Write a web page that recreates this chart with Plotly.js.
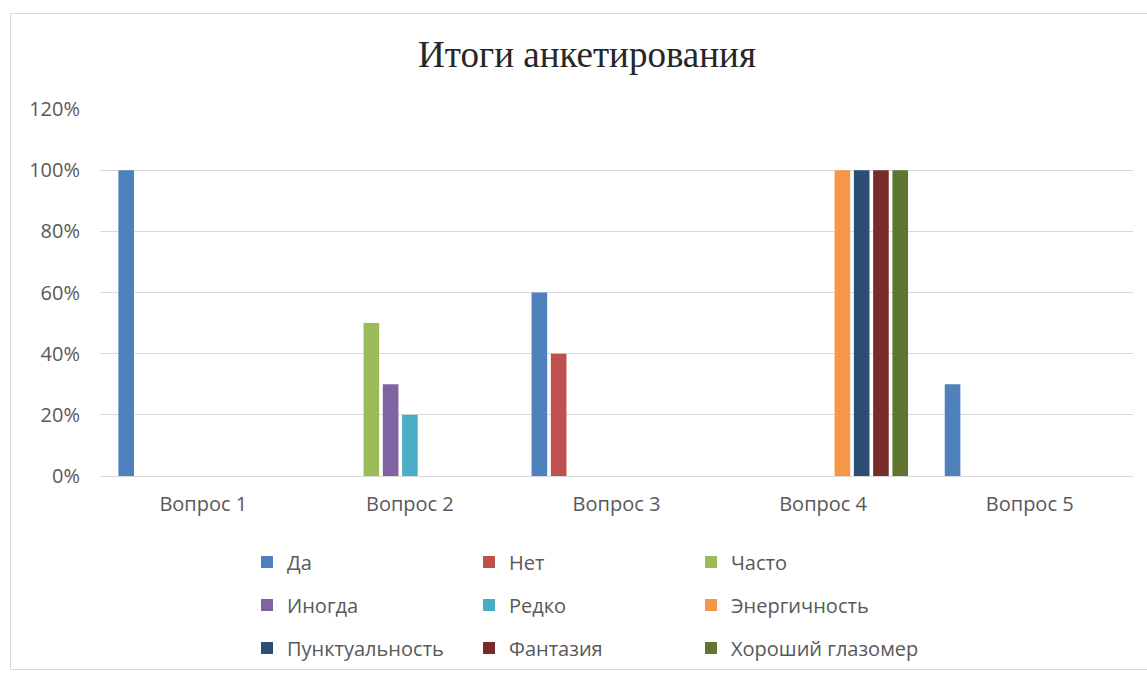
<!DOCTYPE html>
<html>
<head>
<meta charset="utf-8">
<script src="https://cdn.plot.ly/plotly-3.0.1.min.js"></script>
<style>
  html, body { margin: 0; padding: 0; background: #ffffff; overflow: hidden; }
  #chart { width: 1147px; height: 678px; }
  #frame { position: absolute; left: 10px; top: 13px; width: 1150px; height: 657px;
           border: 1px solid #d9d9d9; pointer-events: none; box-sizing: border-box; }
</style>
</head>
<body>
<div id="chart"></div>
<div id="frame"></div>
<script>
// ---- data ----
const categories = ["Вопрос 1", "Вопрос 2", "Вопрос 3", "Вопрос 4", "Вопрос 5"];
const seriesNames = ["Да", "Нет", "Часто", "Иногда", "Редко", "Энергичность", "Пунктуальность", "Фантазия", "Хороший глазомер"];
const daValues          = [1.00, null, 0.60, null, 0.30];
const netValues         = [null, null, 0.40, null, null];
const chastoValues      = [null, 0.50, null, null, null];
const inogdaValues      = [null, 0.30, null, null, null];
const redkoValues       = [null, 0.20, null, null, null];
const energyValues      = [null, null, null, 1.00, null];
const punctualValues    = [null, null, null, 1.00, null];
const fantasyValues     = [null, null, null, 1.00, null];
const eyeValues         = [null, null, null, 1.00, null];
const yTickValues = [0, 0.2, 0.4, 0.6, 0.8, 1.0, 1.2];

const allValues = [daValues, netValues, chastoValues, inogdaValues, redkoValues,
                   energyValues, punctualValues, fantasyValues, eyeValues];
const colors = ["#4F81BD", "#C0504D", "#9BBB59", "#8064A2", "#4BACC6",
                "#F79646", "#2C4D75", "#772C2A", "#5F7530"];
const legendIds = ["legend", "legend", "legend", "legend2", "legend2", "legend2", "legend3", "legend3", "legend3"];

const traces = seriesNames.map((name, i) => ({
  type: "bar",
  name: name,
  x: categories,
  y: allValues[i],
  marker: { color: colors[i] },
  legend: legendIds[i],
  hoverinfo: "skip"
}));
// invisible spacer entry so the last legend column is not clipped
traces.push({
  type: "scatter", mode: "markers", name: " ",
  x: [null], y: [null],
  marker: { color: "rgba(0,0,0,0)", opacity: 0 },
  legend: "legend3", showlegend: true, hoverinfo: "skip"
});

const textFont = { family: "Open Sans, Noto Sans, sans-serif", size: 20, color: "#595959" };
function mkLegend(yPix) {
  return {
    orientation: "h",
    xref: "container", yref: "container",
    x: 247 / 1147, xanchor: "left",
    y: 1 - yPix / 678, yanchor: "middle",
    entrywidth: 177, entrywidthmode: "pixels",
    itemwidth: 30,
    traceorder: "normal",
    font: textFont,
    bgcolor: "rgba(0,0,0,0)",
    itemclick: false, itemdoubleclick: false
  };
}

const layout = {
  width: 1147, height: 678,
  paper_bgcolor: "#ffffff", plot_bgcolor: "#ffffff",
  margin: { l: 100, r: 14, t: 109, b: 202 },
  title: {
    text: "Итоги анкетирования",
    font: { family: "Liberation Serif, DejaVu Serif, serif", size: 37, color: "#262626" },
    xref: "container", yref: "container",
    x: 587 / 1147, xanchor: "center",
    y: 1 - 54 / 678, yanchor: "middle"
  },
  barmode: "group",
  bargap: 0.16,
  bargroupgap: 0.19,
  xaxis: {
    type: "category",
    categoryarray: categories, categoryorder: "array",
    showgrid: false, showline: false, ticks: "",
    tickfont: textFont,
    ticklabelstandoff: 14,
    fixedrange: true
  },
  yaxis: {
    range: [0, 1.2],
    tickvals: yTickValues,
    tickformat: ".0%",
    showgrid: true, gridcolor: "#d9d9d9", gridwidth: 1,
    zeroline: true, zerolinecolor: "#d9d9d9", zerolinewidth: 1,
    showline: false, ticks: "",
    tickfont: textFont,
    ticklabelstandoff: 19,
    fixedrange: true
  },
  legend: mkLegend(562),
  legend2: mkLegend(605),
  legend3: mkLegend(648),
  showlegend: true
};

Plotly.newPlot("chart", traces, layout, { displayModeBar: false, staticPlot: true });
</script>
</body>
</html>
